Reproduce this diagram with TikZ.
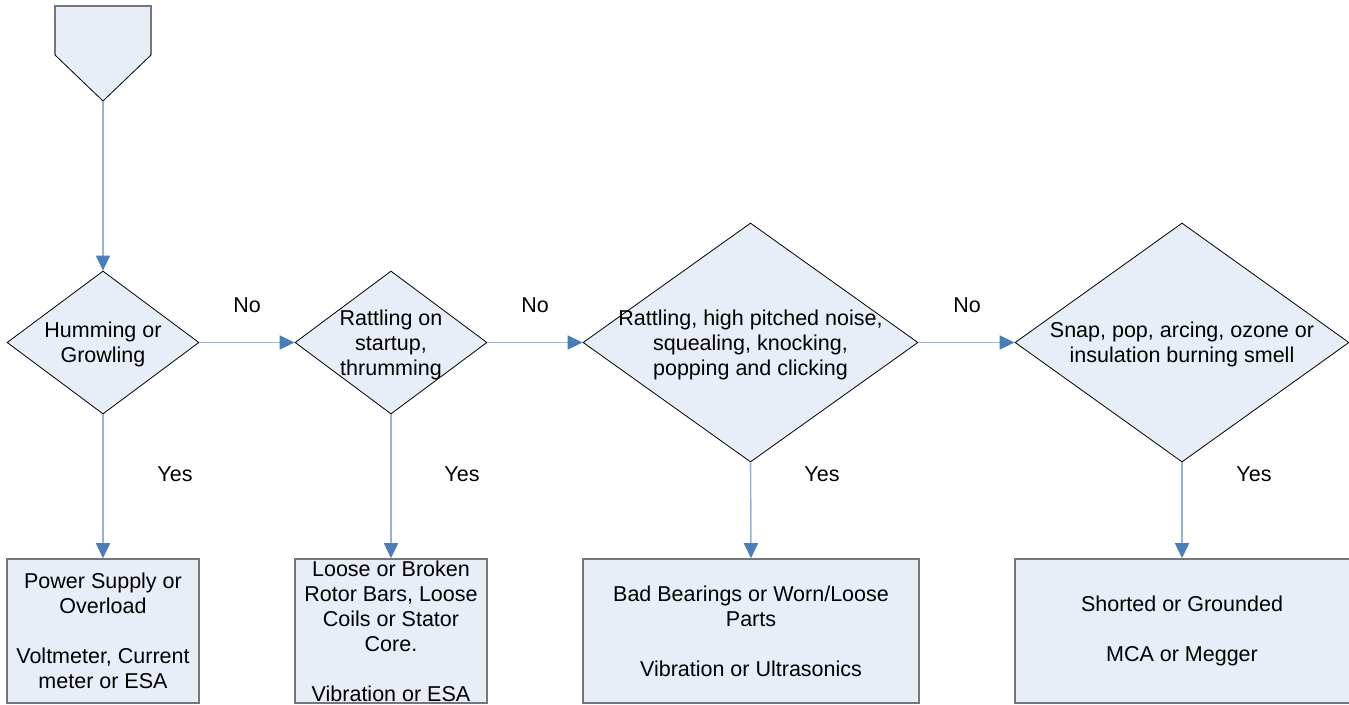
\documentclass[tikz,border=0pt]{standalone}
\usepackage{fontspec}
\setmainfont{Liberation Sans}
\usetikzlibrary{shapes.geometric,arrows.meta}
\definecolor{fillblue}{RGB}{232,238,247}
\definecolor{lineblue}{RGB}{149,179,215}
\definecolor{headblue}{RGB}{74,126,187}
\definecolor{boxgray}{RGB}{118,118,120}
\tikzset{
  dec/.style={shape=diamond, draw=black, line width=0.8pt, fill=fillblue, inner sep=0pt},
  res/.style={rectangle, draw=boxgray, line width=1.6pt, fill=fillblue, inner sep=0pt, minimum height=144pt},
  txt/.style={align=center, inner sep=0pt},
  lbl/.style={inner sep=0pt},
  conn/.style={draw=lineblue, line width=1.6pt, -{Triangle[length=15pt,width=14pt,color=headblue]}}
}
\begin{document}
\begin{tikzpicture}[x=1pt, y=-1pt, font=\fontsize{21.5}{25}\selectfont]
\useasboundingbox (0,0) rectangle (1349,704);

% off-page connector
\fill[fillblue] (55,6) -- (151,6) -- (151,55) -- (103,101) -- (55,55) -- cycle;
\draw[boxgray, line width=1.6pt] (55,55) -- (55,6) -- (151,6) -- (151,55);
\draw[black, line width=0.8pt] (55,55) -- (103,101) -- (151,55);
\coordinate (start) at (103,101);

% decisions
\node[dec, minimum width=192pt, minimum height=143pt] (d1) at (103,342.5) {};
\node[dec, minimum width=192pt, minimum height=143pt] (d2) at (391,342.5) {};
\node[dec, minimum width=335pt, minimum height=239pt] (d3) at (750.5,342.5) {};
\node[dec, minimum width=334pt, minimum height=239pt] (d4) at (1182,342.5) {};

\node[txt] (t1) at ([yshift=-2pt]d1.center) {Humming or\\Growling};
\node[txt] (t2) at ([yshift=-2pt]d2.center) {Rattling on\\startup,\\thrumming};
\node[txt] (t3) at ([yshift=-2pt]d3.center) {Rattling, high pitched noise,\\squealing, knocking,\\popping and clicking};
\node[txt] (t4) at ([yshift=-2pt]d4.center) {Snap, pop, arcing, ozone or\\insulation burning smell};

% results
\node[res, minimum width=192pt] (b1) at (103,631) {};
\node[res, minimum width=192pt] (b2) at (391,631) {};
\node[res, minimum width=336pt] (b3) at (751,631) {};
\node[res, minimum width=337pt] (b4) at (1183.5,631) {};

\node[txt] (r1) at (b1) {Power Supply or\\Overload\\[25pt]Voltmeter, Current\\meter or ESA};
\node[txt] (r2) at (b2) {Loose or Broken\\Rotor Bars, Loose\\Coils or Stator\\Core.\\[25pt]Vibration or ESA};
\node[txt] (r3) at (b3) {Bad Bearings or Worn/Loose\\Parts\\[25pt]Vibration or Ultrasonics};
\node[txt] (r4) at (1182,631) {Shorted or Grounded\\[25pt]MCA or Megger};

% connectors
\draw[conn] (start) -- (d1.north);
\draw[conn] (d1.east) -- (d2.west);
\draw[conn] (d2.east) -- (d3.west);
\draw[conn] (d3.east) -- (d4.west);
\draw[conn] (d1.south) -- (b1.north);
\draw[conn] (d2.south) -- (b2.north);
\draw[conn] (d3.south) -- (b3.north);
\draw[conn] (d4.south) -- (d4.south |- b4.north);

% labels
\node[lbl] (no1) at (247,305) {No};
\node[lbl] (no2) at (535,305) {No};
\node[lbl] (no3) at (967,305) {No};
\node[lbl] (y1) at (175,474) {Yes};
\node[lbl] (y2) at (462,474) {Yes};
\node[lbl] (y3) at (822,474) {Yes};
\node[lbl] (y4) at (1254,474) {Yes};
\end{tikzpicture}
\end{document}
